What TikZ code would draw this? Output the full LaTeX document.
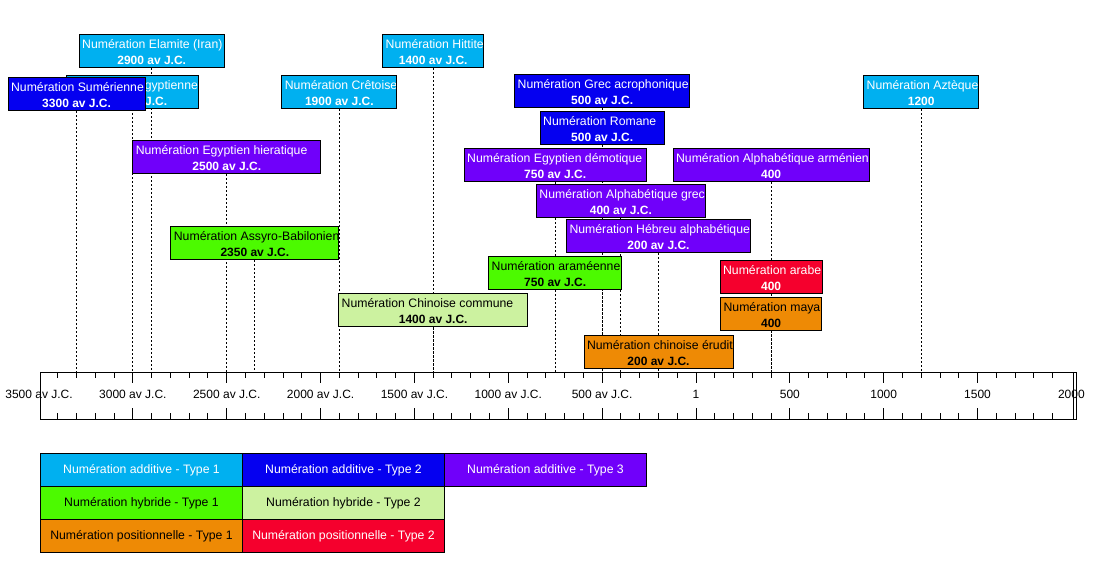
\documentclass[tikz,border=0pt]{standalone}
\usepackage{fontspec}
\setmainfont{Liberation Sans}
\usetikzlibrary{backgrounds}
\definecolor{cCyan}{RGB}{0,176,240}
\definecolor{cBlue}{RGB}{5,0,240}
\definecolor{cPurple}{RGB}{112,0,250}
\definecolor{cGreen}{RGB}{76,250,0}
\definecolor{cLight}{RGB}{204,242,160}
\definecolor{cOrange}{RGB}{238,138,5}
\definecolor{cRed}{RGB}{245,0,45}
\newcommand\dfont{\fontsize{12pt}{14pt}\selectfont}
\newcommand\nfont{\fontsize{12.25pt}{14pt}\selectfont}
\begin{document}
\begin{tikzpicture}[x=1pt,y=-1pt,
  inlab/.style={inner sep=0pt, outer sep=0pt, minimum width=0pt, minimum height=0pt,
    draw=none, fill=none},
  evt/.style n args={5}{draw=black, line width=1pt, fill=#1, minimum width=#2,
    minimum height=33pt, inner sep=0pt, anchor=north,
    path picture={
      \node[inlab, anchor=base west, text=#3, font=\nfont]
        at ([xshift=3pt,yshift=-14pt]path picture bounding box.north west) {#4};
      \node[inlab, anchor=base, text=#3, font=\dfont\bfseries]
        at ([yshift=-30pt]path picture bounding box.north) {#5};
    }},
  conn/.style={line width=1pt, dash pattern=on 2pt off 2pt},
  tick/.style={line width=1pt},
  leg/.style 2 args={draw=black, line width=1pt, fill=#1, text=#2, minimum width=202pt,
    minimum height=33pt, inner sep=0pt, anchor=north west, font=\nfont},
  axlab/.style={font=\dfont, anchor=base, inner sep=0pt}]
\useasboundingbox (0,0) rectangle (1115,578);

% events
\node[evt={cCyan}{145pt}{white}{Numération Elamite (Iran)}{2900 av J.C.}] (elam) at (151.7,34) {};
\node[evt={cCyan}{132pt}{white}{Numération Egyptienne}{3000 av J.C.}] (egy) at (132.9,75) {};
\node[evt={cBlue}{137pt}{white}{Numération Sumérienne}{3300 av J.C.}] (sum) at (76.6,77) {};
\node[evt={cCyan}{115pt}{white}{Numération Crêtoise}{1900 av J.C.}] (cret) at (339.4,75) {};
\node[evt={cCyan}{101pt}{white}{Numération Hittite}{1400 av J.C.}] (hitt) at (433.2,34) {};
\node[evt={cBlue}{175pt}{white}{Numération Grec acrophonique}{500 av J.C.}] (grac) at (602.2,74) {};
\node[evt={cBlue}{124pt}{white}{Numération Romane}{500 av J.C.}] (rom) at (602.2,111) {};
\node[evt={cCyan}{115pt}{white}{Numération Aztèque}{1200}] (azt) at (921.2,75) {};
\node[evt={cPurple}{188pt}{white}{Numération Egyptien hieratique}{2500 av J.C.}] (hier) at (226.8,140) {};
\node[evt={cPurple}{182pt}{white}{Numération Egyptien démotique}{750 av J.C.}] (demo) at (555.2,148) {};
\node[evt={cPurple}{196pt}{white}{Numération Alphabétique arménien}{400}] (arm) at (771.1,148) {};
\node[evt={cPurple}{169pt}{white}{Numération Alphabétique grec}{400 av J.C.}] (grea) at (620.9,184) {};
\node[evt={cPurple}{184pt}{white}{Numération Hébreu alphabétique}{200 av J.C.}] (heb) at (658.5,219) {};
\node[evt={cGreen}{168pt}{black}{Numération Assyro-Babilonien}{2350 av J.C.}] (assy) at (254.9,226) {};
\node[evt={cGreen}{133pt}{black}{Numération araméenne}{750 av J.C.}] (aram) at (555.2,256) {};
\node[evt={cRed}{102pt}{white}{Numération arabe}{400}] (arab) at (771.1,260) {};
\node[evt={cLight}{189pt}{black}{Numération Chinoise commune}{1400 av J.C.}] (chic) at (433.2,293) {};
\node[evt={cOrange}{101pt}{black}{Numération maya}{400}] (maya) at (771.1,297) {};
\node[evt={cOrange}{149pt}{black}{Numération chinoise érudit}{200 av J.C.}] (chie) at (658.5,335) {};

% timeline
\node[draw=black, line width=1pt, minimum width=1035.5pt, minimum height=47pt,
  inner sep=0pt, anchor=north west] (tl) at (40,372) {};
\foreach \yr in {-3400,-3300,...,1900}
  \draw[tick] ({696+0.1877*\yr},372) -- ++(0,6) ({696+0.1877*\yr},419) -- ++(0,-6);
\foreach \yr in {-3000,-2500,...,1500}
  \draw[tick] ({696+0.1877*\yr},372) -- ++(0,11) ({696+0.1877*\yr},419) -- ++(0,-11);
\draw[tick] (1073,372) -- (1073,419);
\foreach \yr/\lab [count=\i] in {-3500/3500 av J.C.,-3000/3000 av J.C.,-2500/2500 av J.C.,
    -2000/2000 av J.C.,-1500/1500 av J.C.,-1000/1000 av J.C.,-500/500 av J.C.,
    0/1,500/500,1000/1000,1500/1500,2000/2000}
  \node[axlab] (lab\i) at ({696+0.1877*\yr},398) {\lab};

% legend
\node[leg={cCyan}{white}] (l11) at (40,453) {Numération additive - Type 1};
\node[leg={cBlue}{white}] (l12) at (242,453) {Numération additive - Type 2};
\node[leg={cPurple}{white}] (l13) at (444,453) {Numération additive - Type 3};
\node[leg={cGreen}{black}] (l21) at (40,486) {Numération hybride - Type 1};
\node[leg={cLight}{black}] (l22) at (242,486) {Numération hybride - Type 2};
\node[leg={cOrange}{black}] (l31) at (40,519) {Numération positionnelle - Type 1};
\node[leg={cRed}{white}] (l32) at (242,519) {Numération positionnelle - Type 2};

% connectors
\begin{pgfonlayer}{background}
  \fill[white] (0,0) rectangle (1115,578);
  \foreach \n in {elam,egy,sum,cret,hitt,grac,rom,azt,hier,demo,arm,grea,heb,assy,aram,arab,chic,maya,chie}
    \draw[conn] (\n.south) -- (\n.south |- tl.north);
\end{pgfonlayer}
\end{tikzpicture}
\end{document}
